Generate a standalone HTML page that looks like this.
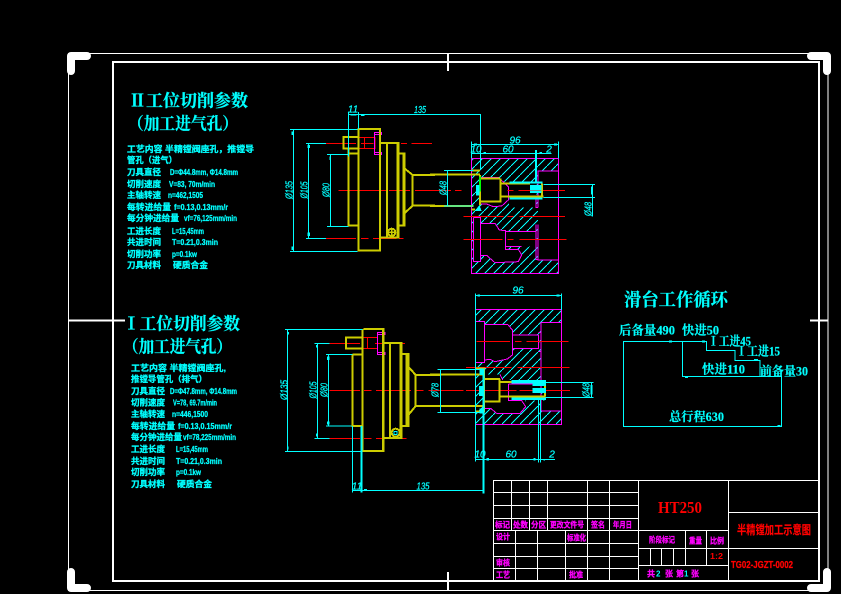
<!DOCTYPE html>
<html><head><meta charset="utf-8">
<style>
html,body{margin:0;padding:0;background:#000;width:841px;height:594px;overflow:hidden}
svg{display:block;shape-rendering:crispEdges}
text{font-family:"Liberation Sans","WenQuanYi Zen Hei","Noto Sans CJK SC",sans-serif;dominant-baseline:central;}
.t{font-family:"Liberation Serif","Noto Serif CJK SC",serif;font-weight:bold;fill:#0ff;font-size:17px;stroke:#0ff;stroke-width:.25}
.s{font-weight:bold;fill:#0ff;font-size:8.5px;stroke:#0ff;stroke-width:.3}
.d{font-size:10px;fill:#0ff;stroke:#0ff;stroke-width:.25;font-style:italic;font-family:"Liberation Sans",sans-serif}
.b{font-size:8px;font-weight:bold;fill:#f0f;stroke:#f0f;stroke-width:.3}
.q{font-family:"Liberation Serif","Noto Serif CJK SC",serif;font-weight:bold;fill:#0ff;stroke:#0ff;stroke-width:.2;font-size:12.5px}
.y{fill:none;stroke:#cc0;stroke-width:6}
.cy{fill:none;stroke:#0ff;stroke-width:3}
.re{fill:none;stroke:#f00;stroke-width:3}
.ma{fill:none;stroke:#f0f;stroke-width:3}
.w{fill:none;stroke:#fff;stroke-width:1}
</style></head><body>
<svg width="841" height="594" viewBox="0 0 841 594" xmlns="http://www.w3.org/2000/svg">
<defs>
<pattern id="h" width="27" height="27" patternUnits="userSpaceOnUse"><path d="M0,27L27,0" stroke="#0ff" stroke-width="3"/></pattern>
</defs>
<rect width="841" height="594" fill="#000"/>
<!-- frames -->
<rect x="68.5" y="53.5" width="759.5" height="537" fill="none" stroke="#fff" stroke-width="1"/>
<rect x="113" y="62" width="706" height="519" fill="none" stroke="#fff" stroke-width="2"/>
<g fill="none" stroke="#fff" stroke-width="8" stroke-linecap="round" stroke-linejoin="round" style="shape-rendering:auto">
<path d="M71,71V56H87"/><path d="M811,56H827V71"/><path d="M71,572V588H87"/><path d="M811,588H827V572"/>
</g>
<g stroke="#fff" stroke-width="2" fill="none"><path d="M448,53V71M448,572V590M68,320.5H125M810,320.5H828"/></g>

<!-- parameter text 1 -->
<text class="t" x="129" y="101" textLength="119" lengthAdjust="spacingAndGlyphs">Ⅱ工位切削参数</text>
<text class="t" x="128" y="124" textLength="110" lengthAdjust="spacingAndGlyphs">（加工进气孔）</text>
<g>
<text class="s" x="127" y="149" textLength="127" lengthAdjust="spacingAndGlyphs">工艺内容 半精镗阀座孔，推镗导</text>
<text class="s" x="127" y="160" textLength="50" lengthAdjust="spacingAndGlyphs">管孔（进气）</text>
<text class="s" x="127" y="172" textLength="34" lengthAdjust="spacingAndGlyphs">刀具直径</text><text class="s" x="170" y="172" textLength="68" lengthAdjust="spacingAndGlyphs">D=Φ44.8mm, Φ14.8mm</text>
<text class="s" x="127" y="184" textLength="34" lengthAdjust="spacingAndGlyphs">切削速度</text><text class="s" x="169" y="184" textLength="46" lengthAdjust="spacingAndGlyphs">V=83, 70m/min</text>
<text class="s" x="127" y="195" textLength="34" lengthAdjust="spacingAndGlyphs">主轴转速</text><text class="s" x="168" y="195" textLength="35" lengthAdjust="spacingAndGlyphs">n=462,1505</text>
<text class="s" x="127" y="207" textLength="44" lengthAdjust="spacingAndGlyphs">每转进给量</text><text class="s" x="174" y="207" textLength="54" lengthAdjust="spacingAndGlyphs">f=0.13,0.13mm/r</text>
<text class="s" x="127" y="218" textLength="52" lengthAdjust="spacingAndGlyphs">每分钟进给量</text><text class="s" x="184" y="218" textLength="53" lengthAdjust="spacingAndGlyphs">vf=76,125mm/min</text>
<text class="s" x="127" y="231" textLength="34" lengthAdjust="spacingAndGlyphs">工进长度</text><text class="s" x="172" y="231" textLength="32" lengthAdjust="spacingAndGlyphs">L=15,45mm</text>
<text class="s" x="127" y="242" textLength="34" lengthAdjust="spacingAndGlyphs">共进时间</text><text class="s" x="172" y="242" textLength="46" lengthAdjust="spacingAndGlyphs">T=0.21,0.3min</text>
<text class="s" x="127" y="254" textLength="34" lengthAdjust="spacingAndGlyphs">切削功率</text><text class="s" x="172" y="254" textLength="25" lengthAdjust="spacingAndGlyphs">p=0.1kw</text>
<text class="s" x="127" y="265" textLength="34" lengthAdjust="spacingAndGlyphs">刀具材料</text><text class="s" x="173" y="265" textLength="35" lengthAdjust="spacingAndGlyphs">硬质合金</text>
</g>
<!-- parameter text 2 -->
<text class="t" x="123" y="324" textLength="117" lengthAdjust="spacingAndGlyphs">Ⅰ工位切削参数</text>
<text class="t" x="123" y="347" textLength="109" lengthAdjust="spacingAndGlyphs">（加工进气孔）</text>
<g>
<text class="s" x="131" y="368" textLength="95" lengthAdjust="spacingAndGlyphs">工艺内容 半精镗阀座孔,</text>
<text class="s" x="131" y="379" textLength="76" lengthAdjust="spacingAndGlyphs">推镗导管孔（排气）</text>
<text class="s" x="131" y="391" textLength="34" lengthAdjust="spacingAndGlyphs">刀具直径</text><text class="s" x="170" y="391" textLength="67" lengthAdjust="spacingAndGlyphs">D=Φ47.8mm, Φ14.8mm</text>
<text class="s" x="131" y="402.500" textLength="34" lengthAdjust="spacingAndGlyphs">切削速度</text><text class="s" x="173" y="402.500" textLength="44" lengthAdjust="spacingAndGlyphs">V=78, 69.7m/min</text>
<text class="s" x="131" y="414" textLength="34" lengthAdjust="spacingAndGlyphs">主轴转速</text><text class="s" x="172" y="414" textLength="36" lengthAdjust="spacingAndGlyphs">n=446,1500</text>
<text class="s" x="131" y="426" textLength="44" lengthAdjust="spacingAndGlyphs">每转进给量</text><text class="s" x="178" y="426" textLength="54" lengthAdjust="spacingAndGlyphs">f=0.13,0.15mm/r</text>
<text class="s" x="131" y="437" textLength="51" lengthAdjust="spacingAndGlyphs">每分钟进给量</text><text class="s" x="183" y="437" textLength="53" lengthAdjust="spacingAndGlyphs">vf=78,225mm/min</text>
<text class="s" x="131" y="449" textLength="34" lengthAdjust="spacingAndGlyphs">工进长度</text><text class="s" x="176" y="449" textLength="32" lengthAdjust="spacingAndGlyphs">L=15,45mm</text>
<text class="s" x="131" y="461" textLength="34" lengthAdjust="spacingAndGlyphs">共进时间</text><text class="s" x="176" y="461" textLength="46" lengthAdjust="spacingAndGlyphs">T=0.21,0.3min</text>
<text class="s" x="131" y="472" textLength="34" lengthAdjust="spacingAndGlyphs">切削功率</text><text class="s" x="176" y="472" textLength="25" lengthAdjust="spacingAndGlyphs">p=0.1kw</text>
<text class="s" x="131" y="484" textLength="34" lengthAdjust="spacingAndGlyphs">刀具材料</text><text class="s" x="177" y="484" textLength="35" lengthAdjust="spacingAndGlyphs">硬质合金</text>
</g>

<!-- top part -->
<g transform="translate(285,100) scale(.33333)">
<path class="re" d="M123,130H213M228,130H265M348,130H366M380,130H440M160,271H306M312,271H375M390,271H450M123,415H213M228,415H250M264,415H335M342,415H356"/>
<path class="re" d="M221,112H270V145H221M238,112V145"/>
<path class="ma" d="M268,97H290V103H268ZM268,97V163H290V157H268"/>
<path class="y" d="M220,87H285V452H220ZM285,129"/>
<path class="y" d="M285,87V452" stroke-width="11"/>
<path class="y" d="M288,129H340V413H288M306,129V413" stroke-width="6"/>
<path class="y" d="M337,129V413" stroke-width="8"/>
<path class="y" d="M340,161H358V377H340" stroke-width="6"/>
<path class="y" d="M355,161V377" stroke-width="8"/>
<path class="y" d="M358,205L383,225V317L358,340" stroke-width="6"/>
<path class="y" d="M383,225H450M383,317H450"/>
<path class="y" d="M218,111H175V145H218" stroke-width="7"/>
<path class="y" d="M190,145V377H218M190,161H224" stroke-width="8"/>
<circle cx="320" cy="397" r="11" fill="none" stroke="#cc0" stroke-width="6"/><path d="M308,397H332M320,385V409" stroke="#cc0" stroke-width="4"/>
<path class="cy" d="M15,88H218M25,88V454M15,454H218M63,130H123M70,130V415M63,415H123M126,163H190M136,163V379M126,379H190M190,36V170M220,36V87M190,43H585"/>
<rect x="20" y="95" width="5" height="10" fill="#0ff"/><rect x="20" y="440" width="5" height="10" fill="#0ff"/><rect x="67" y="135" width="8" height="9" fill="#0ff"/><rect x="67" y="398" width="8" height="10" fill="#0ff"/><rect x="133" y="170" width="5" height="10" fill="#0ff"/><rect x="196" y="42" width="18" height="4" fill="#0ff"/><rect x="228" y="43" width="10" height="5" fill="#0ff"/>
</g>
<text class="d" x="353" y="110" text-anchor="middle">11</text>
<text class="d" x="420" y="110.500" text-anchor="middle" textLength="12" lengthAdjust="spacingAndGlyphs">135</text>
<text class="d" transform="translate(290,190) rotate(-90)" text-anchor="middle" font-size="11" textLength="18" lengthAdjust="spacingAndGlyphs">Ø135</text>
<text class="d" transform="translate(305,190) rotate(-90)" text-anchor="middle" textLength="17" lengthAdjust="spacingAndGlyphs">Ø105</text>
<text class="d" transform="translate(327,190) rotate(-90)" text-anchor="middle" textLength="14" lengthAdjust="spacingAndGlyphs">Ø80</text>

<g transform="translate(430,130) scale(.33333)">
<path d="M124,85H386V430H124Z M324,123V390H386V123Z M130,262V395H152V262Z M152,143H208L237,165V215L215,230H175L152,222Z M237,155H318V233H237Z M152,280H195L208,300L226,302V358H265L275,375L265,395L195,398L170,376H152Z M226,305H318V350H226Z" fill="url(#h)" fill-rule="evenodd"/>
<rect x="237" y="155" width="82" height="52" fill="#000"/>
<path class="ma" d="M124,85H386V430H124Z M386,123H324V233 M324,283V390H386 M318,207V233H324 M318,283V388H324 M130,262V395H152V262H130M152,142H205L235,170V210L215,228L190,230L170,222H152 M152,280H195L208,300L226,302V358H265L275,375L265,395L195,398L170,376H152M226,305H318M226,350H275M124,120H150M124,85V260"/>
<path class="re" d="M0,40H6M0,181H63M75,181H95M232,181H250M265,181H405M100,259H220M232,259H250M268,259H405M100,328H218M232,328H250M268,328H410"/>
<path class="y" d="M0,134H150M0,228H130M150,145H210M150,215H215"/>
<path class="y" d="M212,145V218" stroke-width="8"/>
<path class="y" d="M215,160H300M215,200H340M336,160V200" stroke-width="6"/>
<path class="y" d="M125,122H150M124,238H135"/>
<path d="M150,135V225" stroke="#cc0" stroke-width="6"/><path d="M150,140V185" stroke="#0f0" stroke-width="6"/>
<path d="M238,155H338V161H238ZM238,202H338V209H238ZM300,165H335V180H300ZM300,182H335V189H300ZM138,165H148V197H138ZM135,243H155L148,225Z" fill="#0ff"/>
<path class="cy" d="M151,-48V120M124,35V85M386,35V85M124,43H386M124,70H365M42,121H130M42,228H130M52,121V228M340,163H495M340,203H495M487,163V260"/>
<path d="M318,60V155" stroke="#0ff" stroke-width="6"/>
<rect x="132" y="40" width="9" height="6" fill="#0ff"/><rect x="372" y="40" width="9" height="6" fill="#0ff"/><rect x="160" y="66" width="8" height="4" fill="#0ff"/><rect x="328" y="66" width="8" height="4" fill="#0ff"/><rect x="483" y="170" width="5" height="24" fill="#0ff"/>
</g>
<text class="d" x="515" y="141" text-anchor="middle">96</text>
<text class="d" x="476" y="150" text-anchor="middle">10</text>
<text class="d" x="508" y="150" text-anchor="middle">60</text>
<text class="d" x="549" y="150" text-anchor="middle">2</text>
<text class="d" transform="translate(444,188) rotate(-90)" text-anchor="middle" textLength="14" lengthAdjust="spacingAndGlyphs">Ø48</text>
<text class="d" transform="translate(589,209) rotate(-90)" text-anchor="middle" textLength="14" lengthAdjust="spacingAndGlyphs">Ø48</text>

<!-- bottom part -->
<g transform="translate(280,310) scale(.33333)">
<path class="re" d="M148,100H240M285,100H375M148,241H240M252,241H275M288,241H393M410,241H430M445,241H480M148,385H240M252,385H275M288,385H380"/>
<path class="re" d="M247,83H292V115H247M262,83V115"/>
<path class="ma" d="M292,67H315V73H292ZM292,67V133H315V127H292"/>
<path class="y" d="M250,57H310V423H247V57" stroke-width="6"/>
<path class="y" d="M309,57V423" stroke-width="11"/>
<path class="y" d="M312,99H365V384H312M330,99V384" stroke-width="6"/>
<path class="y" d="M361,99V384" stroke-width="8"/>
<path class="y" d="M365,132H385V348H365" stroke-width="6"/>
<path class="y" d="M380,130V348" stroke-width="8"/>
<path class="y" d="M385,170L407,195V288L385,315" stroke-width="6"/>
<path class="y" d="M407,195H480M407,288H480"/>
<path class="y" d="M247,82H198V115H247" stroke-width="7"/>
<path class="y" d="M217,133V348H250M217,133H250" stroke-width="7"/>
<circle cx="347" cy="368" r="12" fill="none" stroke="#cc0" stroke-width="6"/><rect x="342" y="364" width="9" height="9" fill="none" stroke="#0ff" stroke-width="3"/>
<path class="cy" d="M15,58H247M22,58V424M15,424H247M103,100H148M112,100V385M103,385H148M138,133H217M145,133V348M138,348H215M217,348V548M217,541H609"/>
<path d="M245,348V548" stroke="#0ff" stroke-width="6"/>
<rect x="23" y="66" width="4" height="8" fill="#0ff"/><rect x="21" y="410" width="5" height="8" fill="#0ff"/><rect x="108" y="105" width="5" height="8" fill="#0ff"/><rect x="108" y="370" width="5" height="9" fill="#0ff"/><rect x="141" y="140" width="8" height="10" fill="#0ff"/><rect x="141" y="335" width="8" height="9" fill="#0ff"/><rect x="252" y="537" width="9" height="4" fill="#0ff"/>
</g>
<text class="d" x="357" y="487" text-anchor="middle">11</text>
<text class="d" x="423" y="487" text-anchor="middle" textLength="13" lengthAdjust="spacingAndGlyphs">135</text>
<text class="d" transform="translate(285,390) rotate(-90)" text-anchor="middle" font-size="11" textLength="20" lengthAdjust="spacingAndGlyphs">Ø135</text>
<text class="d" transform="translate(314,390) rotate(-90)" text-anchor="middle" textLength="17" lengthAdjust="spacingAndGlyphs">Ø105</text>
<text class="d" transform="translate(325,390) rotate(-90)" text-anchor="middle" textLength="14" lengthAdjust="spacingAndGlyphs">Ø80</text>

<g transform="translate(430,280) scale(.33333)">
<path d="M136,88H394V433H136Z M333,128V393H394V128Z M138,125V247H163V125Z M163,133H233L247,150V165H325V205H247V225L232,237L195,245L180,238L163,240Z M165,283H210L218,300H347V362H285V380L270,400H200L182,385H165Z" fill="url(#h)" fill-rule="evenodd"/>
<path class="ma" d="M136,88H394V433H136Z M394,128H333V393H394 M138,125H163V247H138 M163,125V247 M163,133H233L247,150V225L232,237L195,245L180,238L163,240 M247,165H325V205H247 M325,157H333V215H325 M210,283L218,300M235,312H345M235,312V362H275L287,380L270,400H200L182,385H165"/>
<path class="re" d="M15,331H100M108,331H260M268,331H420M108,262H245M262,262H418M140,184H240M255,184H275M290,184H415"/>
<path class="y" d="M0,284H165M0,378H160M165,297H210M165,365H212"/>
<path class="y" d="M162,268V398"/>
<path class="y" d="M208,297V365" stroke-width="8"/>
<path class="y" d="M212,306H347M212,350H347M345,306V350" stroke-width="6"/>
<path class="y" d="M136,265H165M136,395H160"/>
<path d="M245,300H348V310H245ZM245,352H348V360H245ZM308,302H348V318H308ZM308,324H348V339H308ZM147,318H163V348H147ZM148,385H164V400H148ZM148,265H164V285H148Z" fill="#0ff"/>
<path class="cy" d="M136,40V545M394,40V90M136,46H394M136,538H375M325,360V548M332,360V548M22,268H148M22,397H148M31,268V397M347,307H490M347,352H490M485,307V352"/>
<path d="M160,270V640" stroke="#0ff" stroke-width="6"/>
<rect x="142" y="43" width="8" height="7" fill="#0ff"/><rect x="380" y="43" width="8" height="7" fill="#0ff"/><rect x="170" y="534" width="7" height="7" fill="#0ff"/><rect x="310" y="534" width="7" height="7" fill="#0ff"/><rect x="340" y="538" width="5" height="3" fill="#0ff"/><rect x="482" y="315" width="5" height="28" fill="#0ff"/>
</g>
<text class="d" x="518" y="291" text-anchor="middle">96</text>
<text class="d" x="480" y="455" text-anchor="middle">10</text>
<text class="d" x="511" y="455" text-anchor="middle">60</text>
<text class="d" x="552" y="455" text-anchor="middle">2</text>
<text class="d" transform="translate(436,390) rotate(-90)" text-anchor="middle" textLength="14" lengthAdjust="spacingAndGlyphs">Ø78</text>
<text class="d" transform="translate(587,390) rotate(-90)" text-anchor="middle" textLength="14" lengthAdjust="spacingAndGlyphs">Ø48</text>

<!-- cycle -->
<g transform="translate(610,285) scale(.33333)">
<path d="M40,170H290V196H375V226H450V274H515V424H40Z M217,170V274H450" fill="none" stroke="#0ff" stroke-width="3.4"/>
<rect x="177" y="167" width="9" height="6" fill="#0ff"/><rect x="276" y="167" width="9" height="6" fill="#0ff"/><rect x="225" y="274" width="9" height="5" fill="#0ff"/><rect x="502" y="420" width="9" height="4" fill="#0ff"/><rect x="432" y="222" width="12" height="4" fill="#0ff"/>
</g>
<g>
<text class="q" x="624" y="300" style="font-size:18px" textLength="104" lengthAdjust="spacingAndGlyphs">滑台工作循环</text>
<text class="q" x="619" y="330.500" textLength="56" lengthAdjust="spacingAndGlyphs">后备量490</text>
<text class="q" x="682" y="330.500" textLength="37" lengthAdjust="spacingAndGlyphs">快进50</text>
<text class="q" x="708" y="341.500" textLength="43" lengthAdjust="spacingAndGlyphs">Ⅰ工进45</text>
<text class="q" x="736" y="351.500" textLength="44" lengthAdjust="spacingAndGlyphs">Ⅰ工进15</text>
<text class="q" x="702" y="369.500" textLength="43" lengthAdjust="spacingAndGlyphs">快进110</text>
<text class="q" x="760" y="371.500" textLength="48" lengthAdjust="spacingAndGlyphs">前备量30</text>
<text class="q" x="669" y="417" textLength="55" lengthAdjust="spacingAndGlyphs">总行程630</text>
</g>

<!-- title block -->
<g class="w">
<rect x="493.500" y="480.500" width="325" height="100.500"/>
<path d="M493.500,492.500H638.500M493.500,505.500H638.500M493.500,518.500H638.500M493.500,530.500H728.500M493.500,543.500H638.500M493.500,556.500H638.500M493.500,568.500H638.500"/>
<path d="M511.500,480.500V530.500M529.500,480.500V530.500M547.500,480.500V530.500M587.500,480.500V581M609.500,480.500V581M638.500,480.500V581M515.500,530.500V581M537.500,530.500V581M565.500,530.500V581"/>
<path d="M728.500,480.500V581M728.500,512.500H818.500M638.500,548.500H818.500M638.500,565.500H728.500M685.500,530.500V565.500M706.500,530.500V565.500M650.500,548.500V565.500M661.500,548.500V565.500M673.500,548.500V565.500"/>
</g>
<g>
<text class="b" x="495" y="525" textLength="15" lengthAdjust="spacingAndGlyphs">标记</text>
<text class="b" x="513" y="525" textLength="15" lengthAdjust="spacingAndGlyphs">处数</text>
<text class="b" x="531" y="525" textLength="15" lengthAdjust="spacingAndGlyphs">分区</text>
<text class="b" x="550" y="525" textLength="34" lengthAdjust="spacingAndGlyphs">更改文件号</text>
<text class="b" x="591" y="525" textLength="14" lengthAdjust="spacingAndGlyphs">签名</text>
<text class="b" x="613" y="525" textLength="19" lengthAdjust="spacingAndGlyphs">年月日</text>
<text class="b" x="496" y="537" textLength="14" lengthAdjust="spacingAndGlyphs">设计</text>
<text class="b" x="567" y="538" textLength="19" lengthAdjust="spacingAndGlyphs">标准化</text>
<text class="b" x="496" y="563" textLength="14" lengthAdjust="spacingAndGlyphs">审核</text>
<text class="b" x="496" y="575" textLength="14" lengthAdjust="spacingAndGlyphs">工艺</text>
<text class="b" x="569" y="575" textLength="14" lengthAdjust="spacingAndGlyphs">批准</text>
<text class="b" x="649" y="540" textLength="26" lengthAdjust="spacingAndGlyphs">阶段标记</text>
<text class="b" x="689" y="541" textLength="13" lengthAdjust="spacingAndGlyphs">重量</text>
<text class="b" x="710" y="541" textLength="14" lengthAdjust="spacingAndGlyphs">比例</text>
<text class="b" x="647" y="574" textLength="6">共</text><text class="b" x="665" y="574" textLength="6">张</text><text class="b" x="676" y="574" textLength="6">第</text><text class="b" x="691" y="574" textLength="6">张</text>
</g>
<text x="656" y="574" font-size="8" font-weight="bold" fill="#0ff">2</text>
<text x="684" y="574" font-size="8" font-weight="bold" fill="#0ff">1</text>
<text x="658" y="507.500" font-size="17" fill="#f00" style="font-family:'Liberation Serif',serif;font-weight:bold" textLength="44" lengthAdjust="spacingAndGlyphs">HT250</text>
<text x="737" y="530" font-size="12" font-weight="bold" fill="#f00" stroke="#f00" stroke-width=".2" textLength="74" lengthAdjust="spacingAndGlyphs">半精镗加工示意图</text>
<text x="710" y="556.500" font-size="8" font-weight="bold" fill="#f00" textLength="13" lengthAdjust="spacingAndGlyphs">1:2</text>
<text x="731" y="565.500" font-size="10" font-weight="bold" fill="#f00" stroke="#f00" stroke-width=".3" textLength="62" lengthAdjust="spacingAndGlyphs">TG02-JGZT-0002</text>
</svg>
</body></html>
